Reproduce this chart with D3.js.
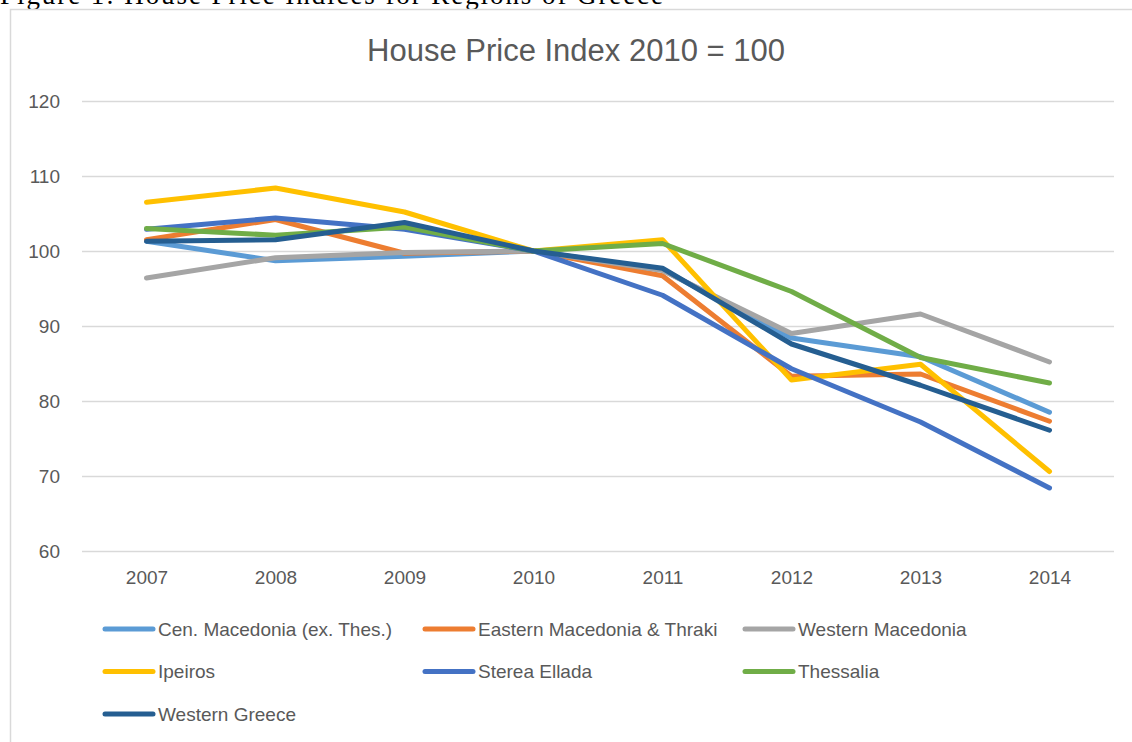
<!DOCTYPE html>
<html lang="en">
<head>
    <meta charset="UTF-8">
    <title>House Price Index 2010 = 100</title>
    <script src="https://d3js.org/d3.v7.min.js"></script>
    <style>
        body { margin: 0; background: #fff; }
        svg { display: block; }
    </style>
</head>
<body>
    <div id="chart"></div>
    <script>
        // data
        const years = ["2007", "2008", "2009", "2010", "2011", "2012", "2013", "2014"];
        const yTicks = [60, 70, 80, 90, 100, 110, 120];
        const seriesNames = [
            "Cen. Macedonia (ex. Thes.)",
            "Eastern Macedonia & Thraki",
            "Western Macedonia",
            "Ipeiros",
            "Sterea Ellada",
            "Thessalia",
            "Western Greece"
        ];
        const cenMacedonia = [101.3, 98.7, 99.3, 100, 97.5, 88.4, 85.9, 78.5];
        const eastMacedonia = [101.5, 104.2, 99.7, 100, 96.7, 83.3, 83.6, 77.3];
        const westMacedonia = [96.4, 99.1, 99.8, 100, 97.4, 89.0, 91.6, 85.2];
        const ipeiros = [106.5, 108.4, 105.2, 100, 101.5, 82.8, 84.9, 70.6];
        const stereaEllada = [102.9, 104.4, 102.9, 100, 94.1, 84.3, 77.2, 68.4];
        const thessalia = [103.0, 102.1, 103.2, 100, 101.0, 94.6, 85.8, 82.4];
        const westernGreece = [101.3, 101.5, 103.8, 100, 97.7, 87.6, 82.1, 76.1];
        const colors = ["#5B9BD5", "#ED7D31", "#A5A5A5", "#FFC000", "#4472C4", "#70AD47", "#255E91"];

        const allValues = [cenMacedonia, eastMacedonia, westMacedonia, ipeiros, stereaEllada, thessalia, westernGreece];
        const series = seriesNames.map((name, i) => ({ name: name, values: allValues[i], color: colors[i] }));

        const width = 1132;
        const height = 742;
        const plot = { left: 82, right: 1114, top: 101, bottom: 551 };
        const textColor = "#595959";
        const font = "'Liberation Sans', Arial, sans-serif";

        const svg = d3.select("#chart")
            .append("svg")
            .attr("width", width)
            .attr("height", height);

        // caption cut off at the top of the page
        svg.append("text")
            .attr("x", 0)
            .attr("y", 4)
            .attr("font-family", "'Liberation Serif', 'DejaVu Serif', serif")
            .attr("font-size", "27px")
            .attr("fill", "#000")
            .attr("textLength", 663)
            .text("Figure 1: House Price Indices for Regions of Greece");

        // chart frame
        svg.append("rect")
            .attr("x", 10.5)
            .attr("y", 9.5)
            .attr("width", 1140)
            .attr("height", 760)
            .attr("fill", "none")
            .attr("stroke", "#D9D9D9")
            .attr("stroke-width", 1.5);

        const x = d3.scalePoint()
            .domain(years)
            .range([plot.left, plot.right])
            .padding(0.5);

        const y = d3.scaleLinear()
            .domain([60, 120])
            .range([plot.bottom, plot.top]);

        // gridlines + y labels
        const yAxis = d3.axisLeft(y)
            .tickValues(yTicks)
            .tickSize(-(plot.right - plot.left))
            .tickPadding(22);

        const gy = svg.append("g")
            .attr("transform", `translate(${plot.left},0)`)
            .call(yAxis);
        gy.select(".domain").remove();
        gy.selectAll(".tick line")
            .attr("stroke", "#D9D9D9")
            .attr("stroke-width", 1.5);
        gy.selectAll(".tick text")
            .attr("fill", textColor)
            .attr("font-family", font)
            .attr("font-size", "19px");

        // x labels
        const xAxis = d3.axisBottom(x)
            .tickSize(0)
            .tickPadding(20);
        const gx = svg.append("g")
            .attr("transform", `translate(0,${plot.bottom})`)
            .call(xAxis);
        gx.select(".domain").remove();
        gx.selectAll(".tick text")
            .attr("fill", textColor)
            .attr("font-family", font)
            .attr("font-size", "19px");

        // title
        svg.append("text")
            .attr("x", 576)
            .attr("y", 61)
            .attr("text-anchor", "middle")
            .attr("fill", textColor)
            .attr("font-family", font)
            .attr("font-size", "31px")
            .text("House Price Index 2010 = 100");

        const line = d3.line()
            .x((d, i) => x(years[i]))
            .y(d => y(d));

        svg.selectAll(".series")
            .data(series)
            .enter()
            .append("path")
            .attr("class", "series")
            .attr("d", d => line(d.values))
            .attr("fill", "none")
            .attr("stroke", d => d.color)
            .attr("stroke-width", 5)
            .attr("stroke-linejoin", "round")
            .attr("stroke-linecap", "round");

        // legend, 3 columns
        const legend = svg.selectAll(".legend")
            .data(series)
            .enter()
            .append("g")
            .attr("class", "legend")
            .attr("transform", (d, i) => `translate(${105 + (i % 3) * 320},${629 + Math.floor(i / 3) * 42.5})`);

        legend.append("line")
            .attr("x1", 0)
            .attr("x2", 48)
            .attr("stroke", d => d.color)
            .attr("stroke-width", 5)
            .attr("stroke-linecap", "round");

        legend.append("text")
            .attr("x", 53)
            .attr("dy", "0.35em")
            .attr("fill", textColor)
            .attr("font-family", font)
            .attr("font-size", "19px")
            .text(d => d.name);
    </script>
</body>
</html>
